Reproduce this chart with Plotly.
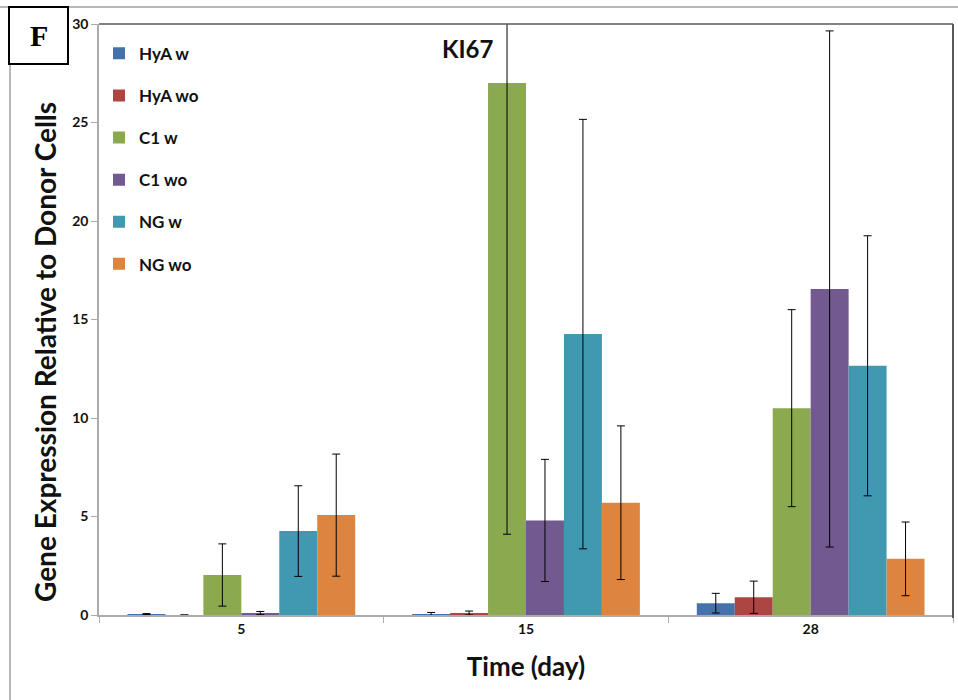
import plotly.graph_objects as go

# KI67 gene expression relative to donor cells, by scaffold group and day
days = ["5", "15", "28"]
series_names = ["HyA w", "HyA wo", "C1 w", "C1 wo", "NG w", "NG wo"]
hya_w = [0.05, 0.05, 0.6]
hya_wo = [0.0, 0.1, 0.9]
c1_w = [2.03, 27.0, 10.5]
c1_wo = [0.1, 4.8, 16.55]
ng_w = [4.26, 14.26, 12.65]
ng_wo = [5.07, 5.7, 2.85]
hya_w_err = [0.02, 0.08, 0.5]
hya_wo_err = [0.0, 0.1, 0.82]
c1_w_err = [1.58, 22.9, 5.0]
c1_wo_err = [0.08, 3.1, 13.1]
ng_w_err = [2.3, 10.9, 6.6]
ng_wo_err = [3.1, 3.9, 1.87]
y_ticks = [0, 5, 10, 15, 20, 25, 30]

values = [hya_w, hya_wo, c1_w, c1_wo, ng_w, ng_wo]
errors = [hya_w_err, hya_wo_err, c1_w_err, c1_wo_err, ng_w_err, ng_wo_err]
colors = ["#4572AB", "#AD4542", "#8BA94F", "#72598F", "#4198B1", "#DD843E"]

FONT = "Lato"
W_PLOT, H_PLOT = 854, 591

fig = go.Figure()
for name, vals, errs, col in zip(series_names, values, errors, colors):
    fig.add_trace(go.Bar(
        x=days, y=vals, name=name,
        marker=dict(color=col, line=dict(width=0)),
        error_y=dict(type="data", array=errs, visible=True,
                     color="#000000", thickness=1, width=4),
        legendgroup=name,
    ))

fig.update_layout(
    width=958, height=700,
    margin=dict(l=99, r=5, t=24, b=85),
    paper_bgcolor="white", plot_bgcolor="white",
    barmode="group", bargap=0.2, bargroupgap=0,
    showlegend=True,
    legend=dict(
        x=0.0, y=0.98, xanchor="left", yanchor="top",
        bgcolor="rgba(0,0,0,0)",
        font=dict(family=FONT, size=17, color="#111", weight="bold"),
        tracegroupgap=17, itemwidth=30,
    ),
    font=dict(family=FONT, color="#111"),
    xaxis=dict(
        type="category",
        showline=True, linecolor="#ababab", linewidth=1.5,
        ticks="outside", tickson="boundaries", ticklen=6, tickcolor="#ababab",
        tickfont=dict(family=FONT, size=14, weight="bold", color="#111"),
        title=dict(text="Time (day)", standoff=22,
                   font=dict(family=FONT, size=26, weight="bold", color="#111")),
        showgrid=False, zeroline=False,
    ),
    yaxis=dict(
        range=[0, 30], tickvals=y_ticks,
        showline=True, linecolor="#ababab", linewidth=1.5,
        ticks="outside", ticklen=6, tickcolor="#ababab",
        tickfont=dict(family=FONT, size=14, weight="bold", color="#111"),
        showgrid=False, zeroline=False,
    ),
)

# Y-axis title, placed a little below the axis midpoint
fig.add_annotation(
    text="Gene Expression Relative to Donor Cells", xref="paper", yref="paper",
    x=(45 - 99) / W_PLOT, y=1 - (352 - 24) / H_PLOT, textangle=-90,
    xanchor="center", yanchor="middle", showarrow=False,
    font=dict(family=FONT, size=28, weight="bold", color="#111"),
)

# Chart title inside the plot area
fig.add_annotation(
    text="KI67", xref="paper", yref="paper",
    x=(467 - 99) / W_PLOT, y=1 - (49 - 24) / H_PLOT,
    xanchor="center", yanchor="middle", showarrow=False,
    font=dict(family=FONT, size=24, weight="bold", color="#111"),
)

# Plot frame: top and right edges
fig.add_shape(type="line", xref="paper", yref="paper", x0=0, x1=1, y0=1, y1=1,
              line=dict(color="#5a5a5a", width=1.5))
fig.add_shape(type="line", xref="paper", yref="paper", x0=1, x1=1, y0=-0.005, y1=1,
              line=dict(color="#5a5a5a", width=2))

# Outer panel border (top and left)
fig.add_shape(type="line", xref="paper", yref="paper",
              x0=-99 / W_PLOT, x1=1.01, y0=1 + 17 / H_PLOT, y1=1 + 17 / H_PLOT,
              line=dict(color="#a0a0a0", width=1.5))
fig.add_shape(type="line", xref="paper", yref="paper",
              x0=-89 / W_PLOT, x1=-89 / W_PLOT, y0=-85 / H_PLOT, y1=1 + 17 / H_PLOT,
              line=dict(color="#a0a0a0", width=1.5))

# Panel letter box
fig.add_shape(type="rect", xref="paper", yref="paper",
              x0=-90 / W_PLOT, x1=-31 / W_PLOT, y0=1 - 40 / H_PLOT, y1=1 + 17 / H_PLOT,
              line=dict(color="#000", width=2), fillcolor="white")
fig.add_annotation(
    text="F", xref="paper", yref="paper",
    x=-60.5 / W_PLOT, y=1 - 11.5 / H_PLOT, xanchor="center", yanchor="middle",
    showarrow=False,
    font=dict(family="Liberation Serif", size=30, weight="bold", color="#000"),
)

fig.write_html("out.html")
